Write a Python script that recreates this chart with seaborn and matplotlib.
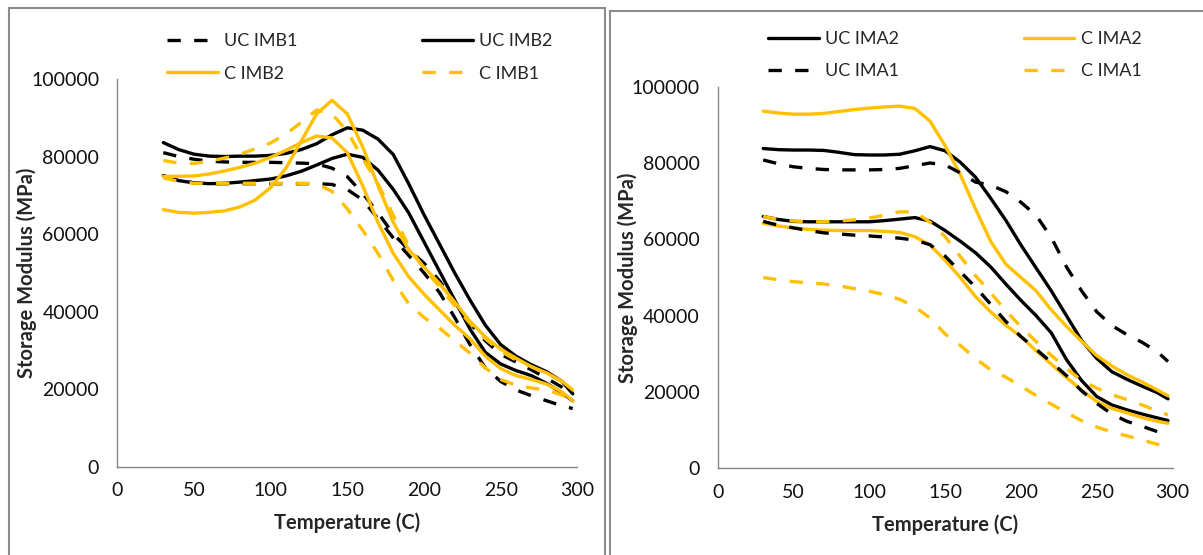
import pandas as pd
import seaborn as sns
import matplotlib.pyplot as plt
import matplotlib.ticker as ticker
from matplotlib.lines import Line2D
from matplotlib.patches import Rectangle

# temperature grid (C) shared by all curves
temps = [30, 40, 50, 60, 70, 80, 90, 100, 110, 120, 130, 140, 150, 160,
         170, 180, 190, 200, 210, 220, 230, 240, 250, 260, 270, 280, 290, 297]

# ---- left panel (IMB), storage modulus in MPa, two runs per series ----
uc_imb2_a = [83600, 81800, 80600, 80100, 80000, 80100, 80100, 80300, 80800, 81800, 83300, 85600, 87400, 86800,
             84500, 80500, 73000, 65000, 57500, 50000, 43000, 36500, 31500, 28500, 26300, 24500, 22000, 18800]
uc_imb2_b = [75100, 73800, 73200, 73000, 73100, 73400, 73800, 74200, 75000, 76200, 77800, 79500, 80600, 79800,
             76500, 71500, 65500, 58000, 50500, 43000, 35500, 29500, 26500, 24800, 23500, 21500, 19000, 17000]
uc_imb1_a = [81000, 80000, 79300, 78800, 78600, 78500, 78500, 78500, 78400, 78300, 78100, 77000, 74800, 70500,
             65500, 60000, 56000, 52500, 48000, 42500, 37000, 32500, 29000, 27000, 25000, 22800, 20500, 18500]
uc_imb1_b = [75000, 74000, 73200, 73000, 73000, 73000, 73000, 73000, 73000, 73000, 73000, 72800, 71500, 68800,
             64000, 59000, 54500, 50000, 45000, 38500, 31500, 25500, 22000, 19800, 18300, 17000, 15700, 15000]
c_imb2_a = [74900, 74900, 75000, 75500, 76300, 77200, 78300, 79800, 81600, 83600, 85300, 84800, 81000, 72500,
            63000, 55000, 49000, 44500, 40500, 36500, 33000, 28500, 25300, 23500, 22500, 21300, 19300, 17000]
c_imb2_b = [66300, 65600, 65400, 65600, 66000, 67000, 68800, 72000, 77000, 84000, 91000, 94500, 91000, 82500,
            72500, 63000, 56000, 51500, 47300, 42500, 37500, 33500, 30300, 28000, 25800, 24200, 22000, 19800]
c_imb1_a = [79000, 78300, 78200, 78800, 79600, 80600, 82000, 83500, 85800, 88800, 92000, 91000, 86500, 79500,
            73000, 64800, 57000, 51000, 46500, 41500, 37000, 33000, 29800, 27500, 25800, 24000, 22000, 20500]
c_imb1_b = [74500, 73600, 73100, 73100, 73100, 73100, 73100, 73100, 73100, 73100, 73000, 71000, 66500, 61000,
            55000, 48000, 42000, 38500, 35800, 32500, 29300, 25500, 22500, 21000, 20300, 19800, 18500, 17000]

# ---- right panel (IMA) ----
uc_ima2_a = [83800, 83500, 83400, 83400, 83300, 82800, 82200, 82100, 82100, 82300, 83200, 84300, 83200, 80200,
             76300, 70800, 65000, 58500, 52500, 46500, 40000, 33500, 28800, 25300, 23300, 21500, 19800, 18200]
uc_ima2_b = [66000, 65200, 64700, 64600, 64600, 64600, 64600, 64600, 64900, 65300, 65700, 64800, 62300, 59500,
             56500, 52800, 48300, 44000, 40000, 35500, 28500, 23000, 18800, 16600, 15300, 14200, 13200, 12500]
uc_ima1_a = [80800, 79800, 79000, 78600, 78300, 78200, 78200, 78200, 78300, 78600, 79300, 80000, 79500, 77400,
             75000, 74200, 72500, 69700, 66300, 60500, 52800, 46500, 41000, 37400, 35000, 33000, 30500, 28000]
uc_ima1_b = [64700, 63700, 63000, 62300, 61700, 61400, 61100, 60900, 60600, 60300, 59800, 58600, 55600, 51500,
             47500, 43000, 38500, 34500, 31200, 27800, 24300, 20300, 17000, 14200, 12300, 11000, 9600, 8600]
c_ima2_a = [93600, 93100, 92800, 92800, 93000, 93500, 94000, 94400, 94700, 94900, 94300, 91000, 84500, 77000,
            68000, 59500, 53500, 50000, 46500, 41500, 37200, 33300, 29500, 26800, 24500, 22600, 20500, 19000]
c_ima2_b = [64200, 63500, 63000, 62600, 62400, 62300, 62300, 62300, 62100, 61800, 60700, 58500, 54500, 50000,
            45000, 41000, 37500, 34500, 30800, 27300, 23800, 20500, 17500, 15700, 14500, 13300, 12300, 11800]
c_ima1_a = [66000, 65200, 64800, 64600, 64600, 64800, 65100, 65600, 66300, 67200, 67200, 64500, 60700, 55500,
            50500, 46000, 41300, 37100, 33200, 29600, 26200, 23000, 21000, 19300, 18000, 16600, 15000, 14000]
c_ima1_b = [50000, 49400, 48900, 48600, 48300, 47800, 47100, 46400, 45500, 44300, 42300, 39400, 35200, 32200,
            28800, 25800, 23900, 21500, 19100, 16800, 14600, 12500, 10800, 9500, 8500, 7400, 6300, 5500]

left_curves = {
    'UC IMB1': [uc_imb1_a, uc_imb1_b],
    'UC IMB2': [uc_imb2_a, uc_imb2_b],
    'C IMB2': [c_imb2_a, c_imb2_b],
    'C IMB1': [c_imb1_a, c_imb1_b],
}
right_curves = {
    'UC IMA2': [uc_ima2_a, uc_ima2_b],
    'C IMA2': [c_ima2_a, c_ima2_b],
    'UC IMA1': [uc_ima1_a, uc_ima1_b],
    'C IMA1': [c_ima1_a, c_ima1_b],
}
# legend order (column-major for ncol=2)
left_order = ['UC IMB1', 'C IMB2', 'UC IMB2', 'C IMB1']
right_order = ['UC IMA2', 'UC IMA1', 'C IMA2', 'C IMA1']

BLACK = '#000000'
GOLD = '#FFC000'
GREY = '#868686'
DASH = (4, 4)

sns.set_style('white')
plt.rcParams['font.family'] = ['Lato', 'DejaVu Sans']


def series_style(name):
    color = BLACK if name.startswith('UC') else GOLD
    dashed = name.endswith('1')
    return color, dashed


def draw_panel(ax, curves, order, legend_center):
    rows = []
    for name, runs in curves.items():
        for rep, vals in enumerate(runs):
            for t, v in zip(temps, vals):
                rows.append({'series': name, 'rep': rep, 'temp': t, 'modulus': v})
    df = pd.DataFrame(rows)
    palette = {n: series_style(n)[0] for n in curves}
    dashes = {n: (DASH if series_style(n)[1] else '') for n in curves}
    sns.lineplot(data=df, x='temp', y='modulus', hue='series', style='series', units='rep',
                 estimator=None, palette=palette, dashes=dashes, linewidth=2.4,
                 legend=False, ax=ax)

    ax.set_xlim(0, 300)
    ax.set_ylim(0, 100000)
    ax.xaxis.set_major_locator(ticker.MultipleLocator(50))
    ax.xaxis.set_minor_locator(ticker.MultipleLocator(25))
    ax.yaxis.set_major_locator(ticker.MultipleLocator(20000))
    ax.yaxis.set_major_formatter(ticker.StrMethodFormatter("{x:.0f}"))
    ax.tick_params(which='both', direction='out', length=5, width=1, color=GREY,
                   labelsize=14, labelcolor='#111111')
    ax.tick_params(axis='x', which='both', pad=6)
    ax.tick_params(axis='y', pad=8)
    for side in ['top', 'right']:
        ax.spines[side].set_visible(False)
    for side in ['left', 'bottom']:
        ax.spines[side].set_color(GREY)
        ax.spines[side].set_linewidth(1)
    ax.set_xlabel("Temperature (C)", fontsize=14.5, fontweight='bold', labelpad=10)
    ax.set_ylabel("Storage Modulus (MPa)", fontsize=14.5, fontweight='bold')
    ax.yaxis.set_label_coords(-0.175, 0.5)

    handles = []
    for name in order:
        color, dashed = series_style(name)
        handles.append(Line2D([0], [0], color=color, lw=2.4,
                              linestyle=(0, DASH) if dashed else '-'))
    ax.legend(handles, order, ncol=2, loc='center', bbox_to_anchor=legend_center,
              bbox_transform=ax.figure.transFigure, frameon=False, fontsize=13,
              handlelength=2.8, handletextpad=0.35, columnspacing=6.9, labelspacing=0.9)


fig = plt.figure(figsize=(12.03, 5.55), dpi=100)
ax_left = fig.add_axes([0.0975, 0.1591, 0.3824, 0.6986])
ax_right = fig.add_axes([0.5966, 0.1562, 0.3781, 0.6876])

draw_panel(ax_left, left_curves, left_order, (360 / 1203, 1 - 57.5 / 555))
draw_panel(ax_right, right_curves, right_order, (955 / 1203, 1 - 55 / 555))

# grey chart-area borders
fig.add_artist(Rectangle((8.6 / 1203, -0.05), (605 - 8.6) / 1203, 1.05 - 7.7 / 555,
                         transform=fig.transFigure, fill=False, edgecolor='#8c8c8c', lw=1.5))
fig.add_artist(Rectangle((610 / 1203, -0.05), 0.6, 1.05 - 10.6 / 555,
                         transform=fig.transFigure, fill=False, edgecolor='#8c8c8c', lw=1.5))

fig.savefig('out.png', dpi=100)
